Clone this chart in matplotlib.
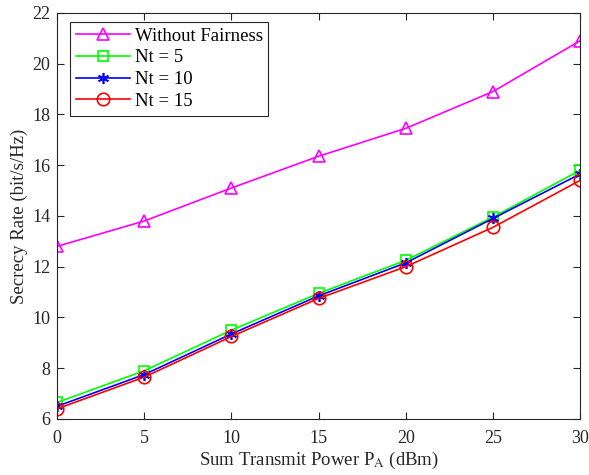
import matplotlib
matplotlib.use("Agg")
import matplotlib.pyplot as plt

plt.rcParams['font.family'] = ['Liberation Serif', 'DejaVu Serif']
plt.rcParams['mathtext.fontset'] = 'stix'

power = [0, 5, 10, 15, 20, 25, 30]
without_fairness = [12.8, 13.8, 15.1, 16.35, 17.45, 18.9, 20.9]
nt5 = [6.65, 7.9, 9.5, 10.95, 12.25, 13.95, 15.8]
nt10 = [6.5, 7.75, 9.35, 10.85, 12.15, 13.9, 15.65]
nt15 = [6.4, 7.65, 9.25, 10.75, 12.0, 13.55, 15.4]

fig = plt.figure(figsize=(5.89, 4.75), dpi=100)
ax = fig.add_axes([0.097, 0.118, 0.888, 0.855])

ax.plot(power, without_fairness, color='#ff00ff', marker='^', markersize=9, markerfacecolor='none', markeredgewidth=1.2, lw=1.2, label='Without Fairness')
ax.plot(power, nt5, color='#00ff00', marker='s', markersize=7, markerfacecolor='none', markeredgewidth=1.2, lw=1.2, label='Nt = 5')
ax.plot(power, nt10, color='#0000ff', marker=(6, 2, 0), markersize=8, markeredgewidth=1.2, lw=1.2, label='Nt = 10')
ax.plot(power, nt15, color='#ff0000', marker='o', markersize=9, markerfacecolor='none', markeredgewidth=1.2, lw=1.2, label='Nt = 15')

ax.set_xlim(0, 30)
ax.set_ylim(6, 22)
ax.set_xticks([0, 5, 10, 15, 20, 25, 30])
ax.set_yticks([6, 8, 10, 12, 14, 16, 18, 20, 22])
ax.tick_params(direction='in', top=True, right=True, labelsize=13, length=5, width=0.8, colors='#262626')
ax.tick_params(axis='y', pad=5)
ax.tick_params(axis='x', pad=8)
for s in ax.spines.values():
    s.set_color('#262626')
    s.set_linewidth(0.8)
ax.set_xlabel('Sum Transmit Power P$_\\mathrm{A}$ (dBm)', fontsize=13.5, labelpad=2, color='#262626')
ax.set_ylabel('Secrecy Rate (bit/s/Hz)', fontsize=13.5, labelpad=3, color='#262626')

leg = ax.legend(loc='upper left', bbox_to_anchor=(13 / 523, 1 - 9 / 406), borderaxespad=0,
                fontsize=13.5, fancybox=False, edgecolor='#262626', framealpha=1,
                handlelength=2.9, labelspacing=0.25, borderpad=0.3, handletextpad=0.25)
leg.get_frame().set_linewidth(0.8)

fig.savefig('out.png', dpi=100)
